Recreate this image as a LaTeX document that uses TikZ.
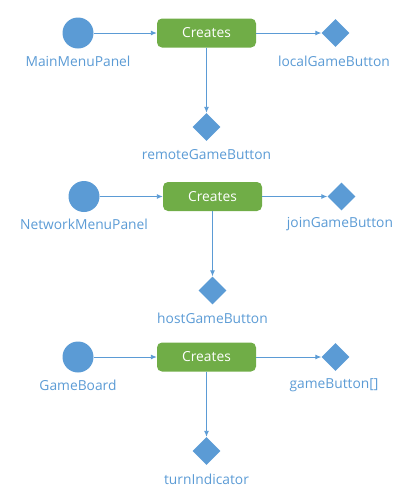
\documentclass[tikz,border=0pt]{standalone}
\usepackage{fontspec}
\setmainfont{Open Sans}
\usetikzlibrary{arrows.meta,positioning,shapes.geometric}
\definecolor{flow}{HTML}{5B9BD5}
\definecolor{act}{HTML}{70AD47}
\tikzset{
  objnode/.style={circle,fill=flow,minimum size=31pt,inner sep=0},
  itemnode/.style={diamond,fill=flow,minimum width=28pt,minimum height=28pt,inner sep=0},
  actbox/.style={rounded corners=5pt,fill=act,text=white,minimum width=99pt,
                 minimum height=29pt,inner sep=0,font=\fontsize{13.8}{16}\selectfont},
  namelbl/.style={text=flow,inner sep=0,font=\fontsize{13.8}{16}\selectfont},
  link/.style={-{Latex[length=6pt,width=5pt]},draw=flow,line width=0.9pt}
}

\begin{document}
\begin{tikzpicture}[x=1pt,y=-1pt]
  \useasboundingbox (0,0) rectangle (408,493);
  \foreach \i/\y/\dx/\src/\rgt/\dwn in {%
      1/33/0/MainMenuPanel/localGameButton/remoteGameButton,
      2/196.5/6/NetworkMenuPanel/joinGameButton/hostGameButton,
      3/357/0/GameBoard/{gameButton[]}/turnIndicator}{
    \node[objnode] (src\i) at (78+\dx,\y) {};
    \node[actbox] (act\i) at (206.5+\dx,\y) {Creates};
    \node[itemnode] (rgt\i) at (335.5+\dx,\y) {};
    \node[itemnode] (dwn\i) at (206.5+\dx,\y+94) {};
    \node[namelbl] (srclbl\i) at (78+\dx,\y+28) {\src};
    \node[namelbl] (rgtlbl\i) at (334+\dx,\y+28) {\rgt};
    \node[namelbl] (dwnlbl\i) at (206.5+\dx,\y+122) {\dwn};
    \draw[link] (src\i) -- (act\i);
    \draw[link] (act\i) -- (rgt\i);
    \draw[link] (act\i) -- (dwn\i);
  }
\end{tikzpicture}
\end{document}
